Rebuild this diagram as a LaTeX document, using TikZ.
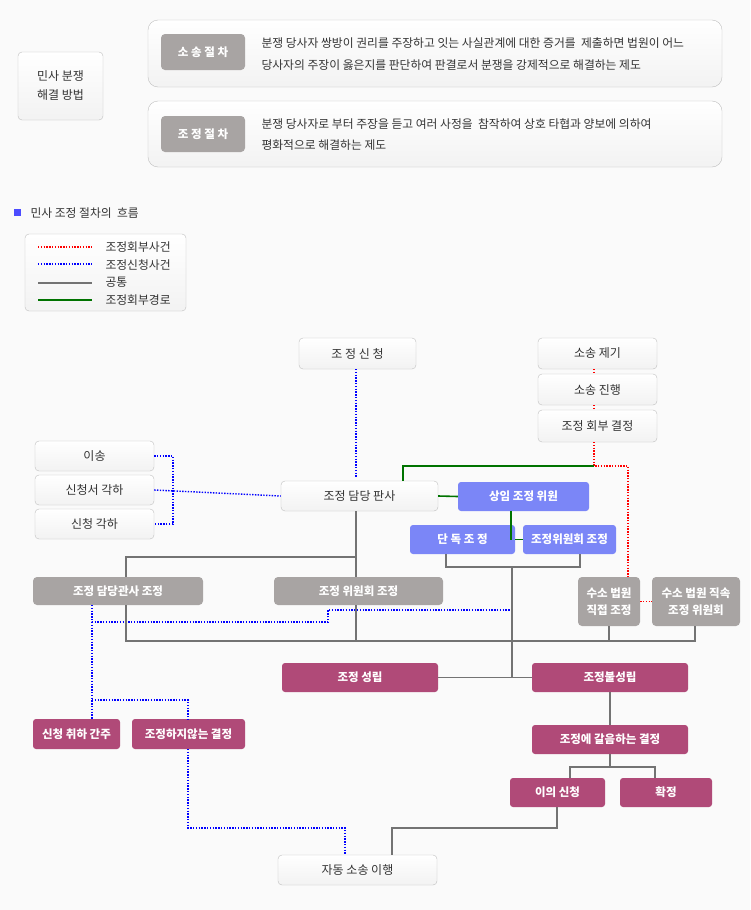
\documentclass[tikz,border=0pt]{standalone}
\usepackage{fontspec}
\setmainfont{Noto Sans CJK KR}
\begin{document}
\begin{tikzpicture}[x=1pt,y=-1pt,
 wb/.style={draw=black!25,rounded corners=4pt,top color=white,bottom color=black!5,font=\fontsize{12}{14}\selectfont,text=black!80},
 bb/.style={fill=bluebox,rounded corners=3pt,text=white,font=\bfseries\fontsize{11.5}{14}\selectfont},
 mb/.style={fill=magbox,rounded corners=3pt,text=white,font=\bfseries\fontsize{11.5}{14}\selectfont},
 gy/.style={fill=graybox,rounded corners=4pt,text=white,font=\bfseries\fontsize{11.5}{14}\selectfont},
 com/.style={draw=gray!90!black,line width=1.6pt},
 grn/.style={draw=green!45!black,line width=1.6pt},
 bl/.style={draw=blue,line width=1.4pt,dash pattern=on 1.4pt off 1.4pt},
 rd/.style={draw=red,line width=1.4pt,dash pattern=on 1.4pt off 1.4pt},
 txt/.style={font=\fontsize{11.8}{13}\selectfont,text=black!80,anchor=west}]
\definecolor{bluebox}{HTML}{7B86F7}
\definecolor{magbox}{HTML}{B04A78}
\definecolor{graybox}{HTML}{A8A4A3}
\fill[black!2] (0,0) rectangle (750,910);
\useasboundingbox (0,0) rectangle (750,910);
\newcommand{\bx}[6]{\node[#1,minimum width=#4-#2,minimum height=#5-#3,inner sep=0pt,align=center] (#6) at ({(#2+#4)/2},{(#3+#5)/2})}
% top section
\bx{wb}{18}{52}{103}{120}{mb0} {민사 분쟁\\[5pt]해결 방법};
\bx{wb,rounded corners=10pt}{148}{20}{722}{87}{t1} {};
\bx{gy}{161}{34}{245}{70}{l1} {소 송 절 차};
\node[txt] (x1) at (258,43) {분쟁 당사자 쌍방이 권리를 주장하고 잇는 사실관계에 대한 증거를\ \ 제출하면 법원이 어느};
\node[txt] (x2) at (258,65) {당사자의 주장이 옳은지를 판단하여 판결로서 분쟁을 강제적으로 해결하는 제도};
\bx{wb,rounded corners=10pt}{148}{101}{722}{167}{t2} {};
\bx{gy}{161}{116}{245}{152}{l2} {조 정 절 차};
\node[txt] (x3) at (258,124) {분쟁 당사자로 부터 주장을 듣고 여러 사정을\ \ 참작하여 상호 타협과 양보에 의하여};
\node[txt] (x4) at (258,145) {평화적으로 해결하는 제도};
\fill[blue!70!white] (14,209) rectangle (21,216);
\node[txt] (hd) at (27,213) {민사 조정 절차의\ \ 흐름};
% legend
\bx{wb}{25}{234}{186}{311}{lg} {};
\coordinate (a1) at (38,247); \coordinate (a2) at (92,247);
\coordinate (b1) at (38,264); \coordinate (b2) at (92,264);
\coordinate (c1) at (38,283); \coordinate (c2) at (92,283);
\coordinate (d1) at (38,300); \coordinate (d2) at (92,300);
\draw[rd] (a1)--(a2); \draw[bl] (b1)--(b2); \draw[com] (c1)--(c2); \draw[grn] (d1)--(d2);
\node[txt] (la) at (102,247) {조정회부사건};
\node[txt] (lb) at (102,265) {조정신청사건};
\node[txt] (lc) at (102,282) {공통};
\node[txt] (ld) at (102,300) {조정회부경로};
% nodes
\bx{wb}{299}{338}{416}{369}{sq} {조 정 신 청};
\bx{wb}{538}{338}{657}{369}{s1} {소송 제기};
\bx{wb}{538}{374}{657}{405}{s2} {소송 진행};
\bx{wb}{538}{410}{657}{442}{s3} {조정 회부 결정};
\bx{wb}{35}{441}{154}{471}{e1} {이송};
\bx{wb}{35}{475}{154}{505}{e2} {신청서 각하};
\bx{wb}{35}{509}{154}{539}{e3} {신청 각하};
\bx{wb}{281}{481}{438}{511}{jd} {조정 담당 판사};
\bx{bb}{458}{482}{589}{511}{sm} {상임 조정 위원};
\bx{bb}{410}{525}{515}{554}{dd} {단 독 조 정};
\bx{bb}{523}{525}{616}{554}{wc} {조정위원회 조정};
\bx{gy}{33}{577}{203}{605}{g1} {조정 담당관사 조정};
\bx{gy}{274}{577}{443}{605}{g2} {조정 위원회 조정};
\bx{gy}{578}{577}{640}{626}{g3} {수소 법원\\[3pt]직접 조정};
\bx{gy}{652}{577}{740}{626}{g4} {수소 법원 직속\\[3pt]조정 위원회};
\bx{mb}{282}{663}{438}{692}{m1} {조정 성립};
\bx{mb}{532}{663}{688}{692}{m2} {조정불성립};
\bx{mb}{33}{719}{120}{749}{m3} {신청 취하 간주};
\bx{mb}{132}{719}{245}{749}{m4} {조정하지않는 결정};
\bx{mb}{532}{725}{688}{754}{m5} {조정에 갈음하는 결정};
\bx{mb}{510}{778}{605}{807}{m6} {이의 신청};
\bx{mb}{620}{778}{712}{807}{m7} {확정};
\bx{wb}{278}{855}{437}{885}{at} {자동 소송 이행};
% blue dotted
\draw[bl] (356,369) -- (356,477);
\draw[bl] (e1.east) -- (173,456) -- (173,524) -- (e3.east);
\draw[bl] (e2.east) -- (jd.west);
\draw[bl] (92,605) -- (92,622) -- (328,622) -- (328,610) -- (510,610);
\draw[bl] (92,622) -- (92,719);
\draw[bl] (92,700) -- (188,700) -- (188,719);
\draw[bl] (188,749) -- (188,828) -- (345,828) -- (345,855);
% red dotted
\draw[rd] (594,369) -- (594,374);
\draw[rd] (594,405) -- (594,410);
\draw[rd] (594,442) -- (594,466) -- (628,466) -- (628,577);
\draw[rd] (g3.east) -- (g4.west);
% green
\draw[grn] (403,481) -- (403,466) -- (594,466);
\draw[grn] (jd.east) -- (sm.west);
\draw[grn] (511,511) -- (511,540);
\draw[grn] (dd.east) -- (wc.west);
% gray common
\draw[com] (356,511) -- (356,577);
\draw[com] (356,557) -- (126,557) -- (126,577);
\draw[com] (126,605) -- (126,641) -- (695,641) -- (695,626);
\draw[com] (356,605) -- (356,641);
\draw[com] (609,626) -- (609,641);
\draw[com] (446,554) -- (446,567) -- (580,567) -- (580,554);
\draw[com] (512,567) -- (512,677);
\draw[com] (m1.east) -- (m2.west);
\draw[com] (610,692) -- (610,725);
\draw[com] (610,754) -- (610,767);
\draw[com] (570,778) -- (570,767) -- (655,767) -- (655,778);
\draw[com] (557,807) -- (557,828) -- (392,828) -- (392,855);
\end{tikzpicture}
\end{document}
